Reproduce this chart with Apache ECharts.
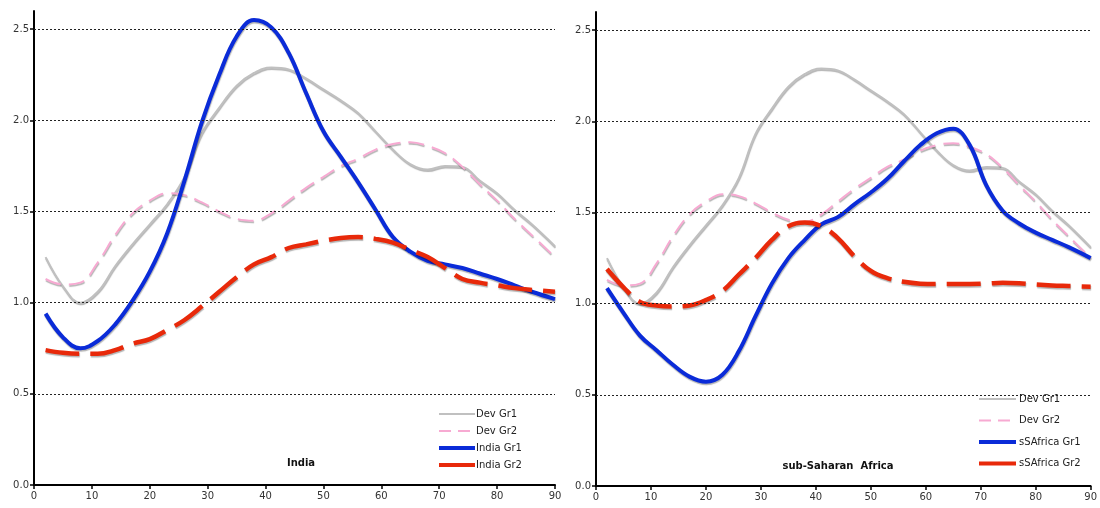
<!DOCTYPE html>
<html>
<head>
<meta charset="utf-8">
<script src="https://cdn.jsdelivr.net/npm/echarts@6/dist/echarts.min.js"></script>
<style>
  html, body { margin: 0; padding: 0; background: #fff; }
  #main { width: 1100px; height: 508px; }
</style>
</head>
<body>
<div id="main"></div>
<script>
// ages (x values)
var ages = [2, 5, 8, 11, 14, 17, 20, 23, 26, 29, 32, 35, 38, 41, 44, 47, 50, 53, 56, 59, 62, 65, 68, 71, 74, 77, 80, 83, 86, 90];

var devGr1 = [1.25, 1.09, 1.00, 1.06, 1.20, 1.32, 1.43, 1.54, 1.69, 1.93, 2.07, 2.19, 2.26, 2.29, 2.28, 2.23, 2.17, 2.11, 2.04, 1.94, 1.84, 1.76, 1.73, 1.75, 1.745, 1.67, 1.60, 1.51, 1.43, 1.31];
var devGr2 = [1.13, 1.10, 1.11, 1.22, 1.37, 1.49, 1.56, 1.60, 1.59, 1.55, 1.50, 1.46, 1.45, 1.49, 1.56, 1.63, 1.69, 1.75, 1.79, 1.84, 1.87, 1.88, 1.86, 1.82, 1.745, 1.65, 1.56, 1.46, 1.37, 1.25];

var indiaGr1 = [0.94, 0.81, 0.75, 0.79, 0.88, 1.01, 1.17, 1.38, 1.67, 1.99, 2.25, 2.46, 2.55, 2.51, 2.37, 2.15, 1.94, 1.80, 1.66, 1.51, 1.36, 1.28, 1.23, 1.21, 1.19, 1.16, 1.13, 1.095, 1.06, 1.02];
var indiaGr2 = [0.74, 0.725, 0.72, 0.72, 0.74, 0.775, 0.80, 0.85, 0.905, 0.98, 1.06, 1.14, 1.21, 1.25, 1.30, 1.32, 1.34, 1.355, 1.36, 1.35, 1.33, 1.29, 1.25, 1.19, 1.13, 1.11, 1.095, 1.08, 1.07, 1.06];

var ssaGr1 = [1.085, 0.95, 0.825, 0.745, 0.665, 0.60, 0.572, 0.61, 0.74, 0.93, 1.11, 1.25, 1.35, 1.435, 1.475, 1.545, 1.61, 1.685, 1.78, 1.87, 1.935, 1.96, 1.87, 1.65, 1.51, 1.44, 1.39, 1.35, 1.31, 1.25];
var ssaGr2 = [1.19, 1.09, 1.01, 0.99, 0.985, 0.99, 1.02, 1.07, 1.16, 1.25, 1.35, 1.425, 1.445, 1.425, 1.36, 1.26, 1.18, 1.14, 1.12, 1.11, 1.108, 1.108, 1.108, 1.11, 1.115, 1.112, 1.105, 1.10, 1.097, 1.093];

var yTicks = [0, 0.5, 1.0, 1.5, 2.0, 2.5];
var gridTicks = [0.5, 1.0, 1.5, 2.0, 2.5];

var FONT = 'DejaVu Sans';

var PINK_DASH = [16, 8];
var RED_DASH = [34, 11];

function pairs(vals) {
    return ages.map(function (a, i) { return [a, vals[i]]; });
}

var shadow = {
    shadowColor: 'rgba(0,0,0,0.3)',
    shadowBlur: 1,
    shadowOffsetX: 0.5,
    shadowOffsetY: 1.5
};

function lineSeries(name, vals, idx, color, width, dash) {
    return {
        name: name,
        type: 'line',
        xAxisIndex: idx,
        yAxisIndex: idx,
        data: pairs(vals),
        smooth: 0.4,
        symbol: 'none',
        lineStyle: Object.assign({ color: color, width: width, type: dash }, shadow),
        itemStyle: { color: color },
        z: 3
    };
}

// dotted horizontal grid lines
function gridSeries(idx) {
    return {
        type: 'line',
        xAxisIndex: idx,
        yAxisIndex: idx,
        data: [],
        silent: true,
        z: 1,
        markLine: {
            silent: true,
            symbol: 'none',
            label: { show: false },
            animation: false,
            lineStyle: { color: '#222', width: 1, type: [2, 2], shadowBlur: 0 },
            data: gridTicks.map(function (v) { return { yAxis: v }; })
        }
    };
}

function xAxis(idx) {
    return {
        type: 'value',
        gridIndex: idx,
        min: 0,
        max: 90,
        interval: 10,
        axisLine: { lineStyle: { color: '#000', width: 2 } },
        axisTick: { length: 4, lineStyle: { color: '#000', width: 1.5 } },
        axisLabel: { color: '#333', fontSize: 10, fontFamily: FONT, margin: 6 },
        splitLine: { show: false }
    };
}

function yAxis(idx) {
    return {
        type: 'value',
        gridIndex: idx,
        min: 0,
        max: 2.6,
        interval: 0.5,
        axisLine: { show: true, lineStyle: { color: '#000', width: 2 } },
        axisTick: { show: true, length: 4, customValues: yTicks, lineStyle: { color: '#000', width: 1.5 } },
        axisLabel: {
            color: '#333', fontSize: 10, fontFamily: FONT, margin: 5,
            customValues: yTicks,
            formatter: function (v) { return v.toFixed(1); }
        },
        splitLine: { show: false }
    };
}

function legendItems(names) {
    return [
        { name: names[0] },
        { name: names[1], lineStyle: { type: [12, 7], width: 2 } },
        { name: names[2], lineStyle: { width: 4 } },
        { name: names[3], lineStyle: { type: 'solid', width: 4 } }
    ];
}

var myChart = echarts.init(document.getElementById('main'));

var option = {
    backgroundColor: '#fff',
    animation: false,
    title: [{
        text: 'India',
        left: 296,
        top: 453,
        textAlign: 'center',
        textStyle: { fontSize: 10, fontWeight: 'bold', fontFamily: FONT, color: '#111' }
    }, {
        text: 'sub-Saharan  Africa',
        left: 833,
        top: 456,
        textAlign: 'center',
        textStyle: { fontSize: 10, fontWeight: 'bold', fontFamily: FONT, color: '#111' }
    }],
    legend: [{
        orient: 'vertical',
        left: 437,
        top: 409,
        itemWidth: 36,
        itemHeight: 8,
        itemGap: 7,
        padding: 0,
        itemStyle: { opacity: 0 },
        data: legendItems(['Dev Gr1', 'Dev Gr2', 'India Gr1', 'India Gr2']),
        textStyle: { fontSize: 10, fontFamily: FONT, color: '#222', padding: [0, 0, 0, -4] }
    }, {
        orient: 'vertical',
        left: 977,
        top: 392,
        itemWidth: 37,
        itemHeight: 8,
        itemGap: 11.5,
        padding: [2, 4, 2, 0],
        backgroundColor: '#fff',
        itemStyle: { opacity: 0 },
        data: legendItems(['Dev Gr1 ', 'Dev Gr2 ', 'sSAfrica Gr1', 'sSAfrica Gr2']),
        textStyle: { fontSize: 10, fontFamily: FONT, color: '#222', padding: [0, 0, 0, -2] }
    }],
    grid: [
        { left: 34, right: 545, top: 11, bottom: 23 },
        { left: 596, right: 3, top: 12, bottom: 22 }
    ],
    xAxis: [xAxis(0), xAxis(1)],
    yAxis: [yAxis(0), yAxis(1)],
    series: [
        gridSeries(0),
        gridSeries(1),
        lineSeries('Dev Gr1', devGr1, 0, '#c0c0c0', 2, 'solid'),
        lineSeries('Dev Gr2', devGr2, 0, '#f7aad2', 2, PINK_DASH),
        lineSeries('India Gr1', indiaGr1, 0, '#0a2bd8', 4, 'solid'),
        lineSeries('India Gr2', indiaGr2, 0, '#e8290a', 4.5, RED_DASH),
        lineSeries('Dev Gr1 ', devGr1, 1, '#c0c0c0', 2, 'solid'),
        lineSeries('Dev Gr2 ', devGr2, 1, '#f7aad2', 2, PINK_DASH),
        lineSeries('sSAfrica Gr1', ssaGr1, 1, '#0a2bd8', 4, 'solid'),
        lineSeries('sSAfrica Gr2', ssaGr2, 1, '#e8290a', 4.5, RED_DASH)
    ]
};

myChart.setOption(option);
</script>
</body>
</html>
